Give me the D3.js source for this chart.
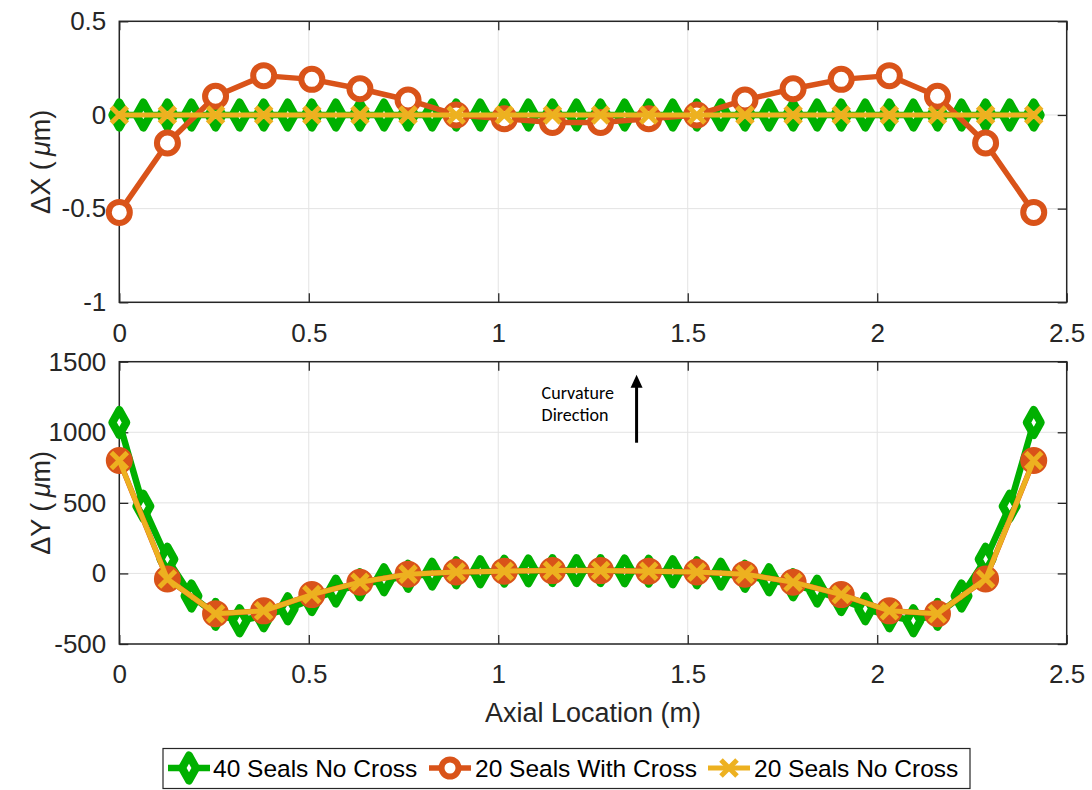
<!DOCTYPE html>
<html>
<head>
<meta charset="utf-8">
<script src="https://cdn.jsdelivr.net/npm/d3@7"></script>
<style>
  html, body { margin: 0; padding: 0; background: #ffffff; }
  svg { display: block; }
  text { font-family: "Liberation Sans", Arial, Helvetica, sans-serif; }
</style>
</head>
<body>
<svg id="chart" width="1092" height="790"></svg>
<script>
// Axial seal positions (m)
const xSeals40 = [0, 0.0635, 0.127, 0.1905, 0.254, 0.3175, 0.381, 0.4445, 0.508, 0.5715,
  0.635, 0.6985, 0.762, 0.8255, 0.889, 0.9525, 1.016, 1.0795, 1.143, 1.2065,
  1.27, 1.3335, 1.397, 1.4605, 1.524, 1.5875, 1.651, 1.7145, 1.778, 1.8415,
  1.905, 1.9685, 2.032, 2.0955, 2.159, 2.2225, 2.286, 2.3495, 2.413];
const xSeals20 = [0, 0.127, 0.254, 0.381, 0.508, 0.635, 0.762, 0.889, 1.016, 1.143,
  1.27, 1.397, 1.524, 1.651, 1.778, 1.905, 2.032, 2.159, 2.286, 2.413];

// Lateral deflection ΔX (µm)
const dx40NoCross = [0, 0, 0, 0, 0, 0, 0, 0, 0, 0, 0, 0, 0, 0, 0, 0, 0, 0, 0, 0,
  0, 0, 0, 0, 0, 0, 0, 0, 0, 0, 0, 0, 0, 0, 0, 0, 0, 0, 0];
const dx20Cross = [-0.52, -0.15, 0.10, 0.21, 0.19, 0.14, 0.08, 0.00, -0.02, -0.04,
  -0.04, -0.02, 0.00, 0.08, 0.14, 0.19, 0.21, 0.10, -0.15, -0.52];
const dx20NoCross = [0, 0, 0, 0, 0, 0, 0, 0, 0, 0, 0, 0, 0, 0, 0, 0, 0, 0, 0, 0];

// Vertical deflection ΔY (µm)
const dy40NoCross = [1069, 476, 100, -160, -290, -335, -300, -250, -185, -125,
  -80, -45, -20, -5, 5, 12, 16, 18, 20, 20,
  20, 18, 16, 12, 5, -5, -20, -45, -80, -125,
  -185, -250, -300, -335, -290, -160, 100, 476, 1069];
const dy20Cross = [800, -40, -285, -265, -150, -62, -5, 10, 16, 20,
  20, 16, 10, -5, -62, -150, -265, -285, -40, 800];
const dy20NoCross = [800, -40, -285, -265, -150, -62, -5, 10, 16, 20,
  20, 16, 10, -5, -62, -150, -265, -285, -40, 800];

// Axis ticks and labels
const xTicks = [0, 0.5, 1, 1.5, 2, 2.5];
const xTickLabels = ["0", "0.5", "1", "1.5", "2", "2.5"];
const dxTicks = [-1, -0.5, 0, 0.5];
const dxTickLabels = ["-1", "-0.5", "0", "0.5"];
const dyTicks = [-500, 0, 500, 1000, 1500];
const dyTickLabels = ["-500", "0", "500", "1000", "1500"];

const seriesNames = ["40 Seals No Cross", "20 Seals With Cross", "20 Seals No Cross"];

// Curvature-direction arrow (data units of the ΔY panel)
const arrowX = 1.365;
const arrowFromY = 926;
const arrowToY = 1408;

const COLORS = { green: "#00b000", orange: "#d95319", yellow: "#edb120" };
const AXIS_COLOR = "#262626";
const GRID_COLOR = "#e3e3e3";

const svg = d3.select("#chart");

const diamondPath = "M0,-12.5 L7,0 L0,12.5 L-7,0 Z";
const crossPath = "M-8,-8 L8,8 M-8,8 L8,-8";

function drawDiamond(sel) {
  sel.append("path")
    .attr("d", diamondPath)
    .attr("fill", "#ffffff")
    .attr("stroke", COLORS.green)
    .attr("stroke-width", 8)
    .attr("stroke-linejoin", "round");
}
function drawCircle(sel, r, fill) {
  sel.append("circle")
    .attr("r", r)
    .attr("fill", fill)
    .attr("stroke", COLORS.orange)
    .attr("stroke-width", 6);
}
function drawCross(sel) {
  sel.append("path")
    .attr("d", crossPath)
    .attr("fill", "none")
    .attr("stroke", COLORS.yellow)
    .attr("stroke-width", 5);
}

function panel(cfg) {
  const g = svg.append("g");
  const x = d3.scaleLinear().domain([0, 2.5]).range([cfg.left, cfg.right]);
  const y = d3.scaleLinear().domain(cfg.yDomain).range([cfg.bottom, cfg.top]);

  // grid
  g.append("g").selectAll("line").data(xTicks).join("line")
    .attr("x1", d => x(d)).attr("x2", d => x(d))
    .attr("y1", cfg.top).attr("y2", cfg.bottom)
    .attr("stroke", GRID_COLOR).attr("stroke-width", 1);
  g.append("g").selectAll("line").data(cfg.yTicks).join("line")
    .attr("x1", cfg.left).attr("x2", cfg.right)
    .attr("y1", d => y(d)).attr("y2", d => y(d))
    .attr("stroke", GRID_COLOR).attr("stroke-width", 1);

  // axes with inward ticks
  const styleAxis = a => {
    a.select(".domain").remove();
    a.selectAll(".tick line").attr("stroke", AXIS_COLOR).attr("stroke-width", 1.3);
    a.selectAll(".tick text").attr("fill", AXIS_COLOR).style("font-size", "26px")
      .style("font-family", '"Liberation Sans", Arial, sans-serif');
  };
  g.append("g").attr("transform", `translate(0,${cfg.bottom})`)
    .call(d3.axisBottom(x).tickValues(xTicks).tickSize(-9).tickPadding(21)
      .tickFormat((d, i) => xTickLabels[i]))
    .call(styleAxis);
  g.append("g").attr("transform", `translate(0,${cfg.top})`)
    .call(d3.axisTop(x).tickValues(xTicks).tickSize(-9).tickFormat(""))
    .call(styleAxis);
  g.append("g").attr("transform", `translate(${cfg.left},0)`)
    .call(d3.axisLeft(y).tickValues(cfg.yTicks).tickSize(-9).tickPadding(13)
      .tickFormat((d, i) => cfg.yTickLabels[i]))
    .call(styleAxis);
  g.append("g").attr("transform", `translate(${cfg.right},0)`)
    .call(d3.axisRight(y).tickValues(cfg.yTicks).tickSize(-9).tickFormat(""))
    .call(styleAxis);

  g.append("rect")
    .attr("x", cfg.left).attr("y", cfg.top)
    .attr("width", cfg.right - cfg.left).attr("height", cfg.bottom - cfg.top)
    .attr("fill", "none").attr("stroke", AXIS_COLOR).attr("stroke-width", 1.5);

  // y label
  const yl = g.append("text")
    .attr("transform", `translate(${cfg.labelX},${(cfg.top + cfg.bottom) / 2}) rotate(-90)`)
    .attr("text-anchor", "middle")
    .attr("fill", AXIS_COLOR)
    .style("font-size", "27px");
  yl.append("tspan").text(cfg.yLabel + " (\u2009");
  yl.append("tspan").style("font-style", "italic").text("\u03bc");
  yl.append("tspan").text("m)");

  const line = d3.line().x(d => x(d[0])).y(d => y(d[1]));

  // 40 seals, no cross
  const g40 = d3.zip(xSeals40, cfg.s40);
  g.append("path").datum(g40).attr("d", line)
    .attr("fill", "none").attr("stroke", COLORS.green)
    .attr("stroke-width", 6.5).attr("stroke-linejoin", "round");
  g.append("g").selectAll("g").data(g40).join("g")
    .attr("transform", d => `translate(${x(d[0])},${y(d[1])})`)
    .call(drawDiamond);

  // 20 seals with cross
  const g20c = d3.zip(xSeals20, cfg.s20c);
  g.append("path").datum(g20c).attr("d", line)
    .attr("fill", "none").attr("stroke", COLORS.orange)
    .attr("stroke-width", 5.5).attr("stroke-linejoin", "round");
  g.append("g").selectAll("g").data(g20c).join("g")
    .attr("transform", d => `translate(${x(d[0])},${y(d[1])})`)
    .each(function () { drawCircle(d3.select(this), 10.5, cfg.circleFill); });

  // 20 seals, no cross
  const g20 = d3.zip(xSeals20, cfg.s20);
  g.append("path").datum(g20).attr("d", line)
    .attr("fill", "none").attr("stroke", COLORS.yellow)
    .attr("stroke-width", 5).attr("stroke-linejoin", "round");
  g.append("g").selectAll("g").data(g20).join("g")
    .attr("transform", d => `translate(${x(d[0])},${y(d[1])})`)
    .call(drawCross);

  return { g, x, y };
}

panel({
  left: 119.3, right: 1066.7, top: 21.3, bottom: 302.3,
  yDomain: [-1, 0.5], yTicks: dxTicks, yTickLabels: dxTickLabels,
  yLabel: "\u0394X", labelX: 50,
  s40: dx40NoCross, s20c: dx20Cross, s20: dx20NoCross, circleFill: "#ffffff"
});

const bottomPanel = panel({
  left: 119.3, right: 1066.7, top: 361.7, bottom: 644,
  yDomain: [-500, 1500], yTicks: dyTicks, yTickLabels: dyTickLabels,
  yLabel: "\u0394Y", labelX: 50,
  s40: dy40NoCross, s20c: dy20Cross, s20: dy20NoCross, circleFill: COLORS.orange
});

// x-axis title
svg.append("text")
  .attr("x", (119.3 + 1066.7) / 2).attr("y", 722)
  .attr("text-anchor", "middle").attr("fill", AXIS_COLOR)
  .style("font-size", "27px")
  .text("Axial Location (m)");

// curvature direction annotation
{
  const { x, y } = bottomPanel;
  const ax = x(arrowX), tipY = y(arrowToY), baseY = y(arrowFromY);
  svg.append("line")
    .attr("x1", ax).attr("x2", ax)
    .attr("y1", baseY).attr("y2", tipY + 10)
    .attr("stroke", "#000").attr("stroke-width", 3);
  svg.append("path")
    .attr("d", `M${ax},${tipY} L${ax + 6},${tipY + 13} L${ax - 6},${tipY + 13} Z`)
    .attr("fill", "#000");
  const t = svg.append("text")
    .attr("fill", "#000")
    .style("font-family", 'Carlito, Calibri, Lato, "Open Sans", sans-serif')
    .style("font-size", "18px");
  t.append("tspan").attr("x", ax - 95).attr("y", tipY + 24).text("Curvature");
  t.append("tspan").attr("x", ax - 95).attr("y", tipY + 46).text("Direction");
}

// legend
{
  const lg = svg.append("g");
  lg.append("rect")
    .attr("x", 163).attr("y", 748.5).attr("width", 807).attr("height", 40)
    .attr("fill", "#ffffff").attr("stroke", AXIS_COLOR).attr("stroke-width", 1.2);
  const items = [
    { name: seriesNames[0], x0: 168, color: COLORS.green, w: 6.5, mark: s => drawDiamond(s), tx: 213 },
    { name: seriesNames[1], x0: 429, color: COLORS.orange, w: 5.5, mark: s => drawCircle(s, 8.5, "#ffffff"), tx: 475 },
    { name: seriesNames[2], x0: 708, color: COLORS.yellow, w: 5, mark: s => drawCross(s), tx: 754 }
  ];
  const cy = 768;
  items.forEach(it => {
    lg.append("line")
      .attr("x1", it.x0).attr("x2", it.x0 + 42)
      .attr("y1", cy).attr("y2", cy)
      .attr("stroke", it.color).attr("stroke-width", it.w);
    const m = lg.append("g").attr("transform", `translate(${it.x0 + 21},${cy})`);
    it.mark(m);
    lg.append("text")
      .attr("x", it.tx).attr("y", 777)
      .attr("fill", "#000")
      .style("font-size", "24.5px")
      .text(it.name);
  });
}
</script>
</body>
</html>
